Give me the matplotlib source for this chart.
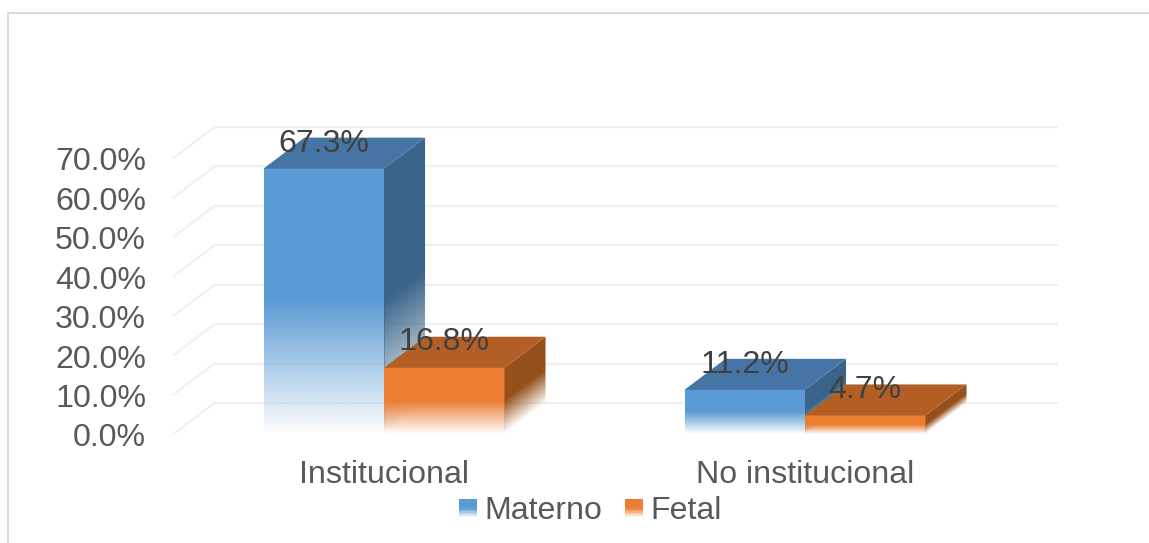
import numpy as np
import matplotlib
matplotlib.use("Agg")
import matplotlib.pyplot as plt
from matplotlib.colors import to_rgb
from matplotlib.legend_handler import HandlerBase
from matplotlib.lines import Line2D
from matplotlib.patches import Patch, Polygon, Rectangle
from matplotlib.transforms import ScaledTranslation

plt.rcParams['font.family'] = ['Liberation Sans', 'DejaVu Sans']

# datos
categories = ['Institucional', 'No institucional']
series_names = ['Materno', 'Fetal']
materno = [67.3, 11.2]
fetal = [16.8, 4.7]
y_ticks = [0, 10, 20, 30, 40, 50, 60, 70]

# colores de cada cara: frente, arriba, lado
blue = ['#5b9bd5', '#4675a5', '#3a6489']
orange = ['#ed7d31', '#b25e24', '#96501b']

W, H = 1149, 543
FS = 23.1
bar_w = 0.2862
depth_x = 0.0975  # profundidad 3d en unidades de x
depth_y = 7.87    # profundidad 3d en unidades de y

fig = plt.figure(figsize=(W / 100, H / 100), dpi=100)
ax = fig.add_axes([173.5 / W, (H - 434) / H, 842 / W, 276 / H])
ax.set_xlim(-0.5, 1.5)
ax.set_ylim(0, 70)
ax.patch.set_visible(False)
for s in ax.spines.values():
    s.set_visible(False)

# marco de la imagen
fig.add_artist(Line2D([8 / W, 8 / W, 1], [0, (H - 13) / H, (H - 13) / H],
                      color='#d9d9d9', lw=1.4))

# rejilla: pared del fondo y pared lateral
for v in y_ticks:
    ax.plot([-0.5 + depth_x, 1.5 + depth_x], [v + depth_y, v + depth_y],
            color='#f0f0f0', lw=1.6, clip_on=False, zorder=1)
    ax.plot([-0.5, -0.5 + depth_x], [v, v + depth_y],
            color='#f0f0f0', lw=1.6, clip_on=False, zorder=1)


def fade_image(color, x0, x1, y0, y1, alpha_fn, zorder, clip=None):
    xs = np.linspace(x0, x1, 120)
    ys = np.linspace(y1, y0, 300)
    xx, yy = np.meshgrid(xs, ys)
    img = np.zeros(xx.shape + (4,))
    img[..., :3] = to_rgb(color)
    img[..., 3] = alpha_fn(xx, yy)
    im = ax.imshow(img, extent=[x0, x1, y0, y1], aspect='auto',
                   interpolation='bilinear', zorder=zorder)
    # la cara lateral sobresale del eje, no recortar con el bbox
    im.set_clip_box(fig.bbox)
    if clip is not None:
        im.set_clip_path(clip)
    return im


def draw_bar(x, v, colors, z):
    front, top, side = colors
    # la mitad inferior se desvanece hacia blanco
    half = v * 0.5

    def a_front(xx, yy):
        return np.clip(yy / half, 0, 1)

    def a_side(xx, yy):
        return np.clip((yy - (xx - (x + bar_w)) / depth_x * depth_y) / half, 0, 1)

    fade_image(front, x, x + bar_w, 0, v, a_front, z)
    poly = Polygon([(x + bar_w, 0), (x + bar_w + depth_x, depth_y),
                    (x + bar_w + depth_x, v + depth_y), (x + bar_w, v)],
                   closed=True, transform=ax.transData, fc='none', ec='none', clip_on=False)
    ax.add_patch(poly)
    fade_image(side, x + bar_w, x + bar_w + depth_x, 0, v + depth_y, a_side, z, clip=poly)
    ax.add_patch(Polygon([(x, v), (x + depth_x, v + depth_y),
                          (x + bar_w + depth_x, v + depth_y), (x + bar_w, v)],
                         closed=True, fc=top, ec='none', zorder=z, clip_on=False))


for i in range(len(categories)):
    draw_bar(i - bar_w, materno[i], blue, 3)
    draw_bar(i, fetal[i], orange, 4)

ax.set_xlim(-0.5, 1.5)
ax.set_ylim(0, 70)

# etiquetas de datos
for i in range(len(categories)):
    ax.text(i - bar_w / 2, materno[i] + 4.2, f'{materno[i]:.1f}%', ha='center', va='baseline',
            fontsize=FS, color='#404040', zorder=6, clip_on=False)
    ax.text(i + bar_w / 2, fetal[i] + 4.4, f'{fetal[i]:.1f}%', ha='center', va='baseline',
            fontsize=FS, color='#404040', zorder=6, clip_on=False)

ax.set_yticks(y_ticks)
ax.set_yticklabels([f'{v:.1f}%' for v in y_ticks], fontsize=FS, color='#595959')
ax.tick_params(axis='y', length=0, pad=19.8)
ax.set_xticks(range(len(categories)))
ax.set_xticklabels(categories, fontsize=FS, color='#595959')
ax.tick_params(axis='x', length=0, pad=18.4)
for t in ax.get_yticklabels():
    t.set_verticalalignment('center_baseline')
    t.set_transform(t.get_transform() + ScaledTranslation(0, -0.01, fig.dpi_scale_trans))


class GradientHandler(HandlerBase):
    # cuadro de leyenda con degradado, hecho de tiras finas
    def create_artists(self, legend, orig, xd, yd, width, height, fontsize, trans):
        artists = []
        n = 12
        side = min(width, height)
        c = orig.get_facecolor()
        for k in range(n):
            a = min(1, (k + 0.5) / (n * 0.5))
            # mezcla con blanco para que las tiras no dejen rayas
            col = [a * ch + (1 - a) for ch in c[:3]]
            artists.append(Rectangle((-xd, -yd + side * k / n), side, side / n + 0.6,
                                     fc=col, ec='none', transform=trans))
        return artists


handles = [Patch(fc=blue[0]), Patch(fc=orange[0])]
leg = fig.legend(handles, series_names, loc='center',
                 bbox_to_anchor=(590.5 / W, (H - 511) / H),
                 frameon=False, fontsize=FS, ncol=2, handlelength=0.55, handleheight=0.55,
                 handletextpad=0.24, columnspacing=0.7, borderpad=0, labelcolor='#595959',
                 handler_map={Patch: GradientHandler()})

fig.savefig('out.png', dpi=100)
